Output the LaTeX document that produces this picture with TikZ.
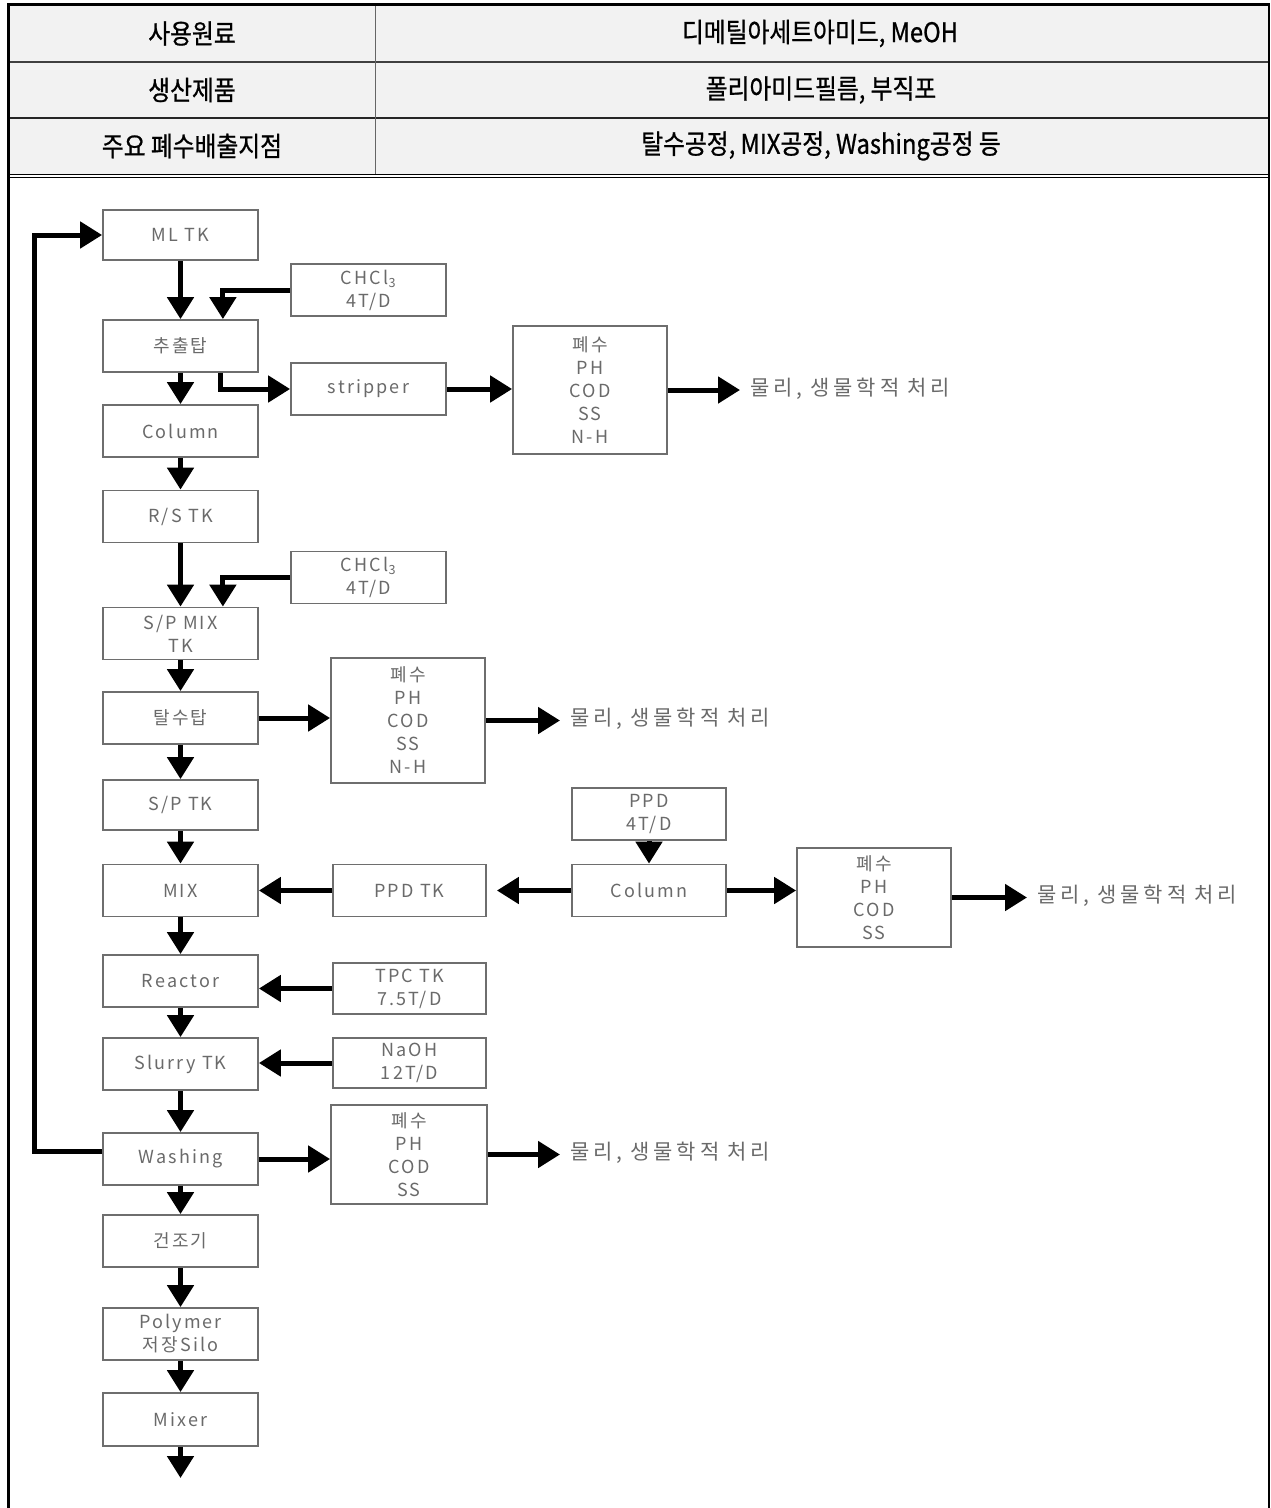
\documentclass[tikz,border=0pt]{standalone}
\usepackage{fontspec}
\usetikzlibrary{arrows.meta}
\newfontfamily\tblfont[FakeStretch=0.88,FakeBold=0.8]{Noto Sans CJK KR}
\newfontfamily\dgfont[LetterSpace=12]{Noto Sans CJK KR}
\newfontfamily\lblfont[LetterSpace=18]{Noto Sans CJK KR}
\definecolor{boxline}{HTML}{6E6E6E}
\definecolor{boxtext}{HTML}{6A6A6A}
\definecolor{cellfill}{HTML}{F2F2F2}
\begin{document}
\begin{tikzpicture}[x=1pt,y=-1pt,
  box/.style={draw=boxline, line width=1.8pt, minimum width=155pt, minimum height=52pt,
    inner sep=0pt, align=center, text=boxtext, font=\dgfont\fontsize{18}{23}\selectfont},
  flow/.style={line width=5pt, -{Triangle[width=26pt,length=22pt]}},
  lbl/.style={anchor=west, inner xsep=10pt, inner ysep=0pt, text=boxtext,
    font=\lblfont\fontsize{21}{23}\selectfont},
  cell/.style={font=\tblfont\fontsize{27}{30}\selectfont, text=black, inner sep=0pt}]
\useasboundingbox (0,0) rectangle (1270,1508);
\fill[white] (0,0) rectangle (1270,1508);
% ---------- table ----------
\fill[cellfill] (9,5) rectangle (1268,174);
\draw[line width=1.2pt, black!75] (9,62) -- (1268,62);
\draw[line width=1.2pt, black!85] (9,118) -- (1268,118);
\draw[line width=1pt, black!60] (375,5) -- (375,174);
\draw[line width=1pt] (9,174) -- (1268,174);
\draw[line width=1pt] (9,177) -- (1268,177);
\draw[line width=3pt] (7,4.5) -- (1270,4.5);
\draw[line width=3pt] (8.5,3) -- (8.5,1508);
\draw[line width=2pt] (1268.5,3) -- (1268.5,1508);
\node[cell] (c11) at (192,33.5) {사용원료};
\node[cell] (c12) at (820,33.5) {디메틸아세트아미드, MeOH};
\node[cell] (c21) at (192,90) {생산제품};
\node[cell] (c22) at (821,90) {폴리아미드필름, 부직포};
\node[cell] (c31) at (192,146) {주요 폐수배출지점};
\node[cell] (c32) at (821,146) {탈수공정, MIX공정, Washing공정 등};
% ---------- main column ----------
\node[box, minimum height=50pt] (mltk) at (180.5,235) {ML TK};
\node[box] (chu) at (180.5,346) {추출탑};
\node[box] (col1) at (180.5,431) {Column};
\node[box] (rstk) at (180.5,516.5) {R/S TK};
\node[box] (spmix) at (180.5,633.5) {S/P MIX\\TK};
\node[box] (tal) at (180.5,718) {탈수탑};
\node[box, minimum height=50pt] (sptk) at (180.5,805) {S/P TK};
\node[box] (mix) at (180.5,890.5) {MIX};
\node[box] (reac) at (180.5,981) {Reactor};
\node[box] (slur) at (180.5,1064) {Slurry TK};
\node[box] (wash) at (180.5,1159) {Washing};
\node[box] (dry) at (180.5,1241) {건조기};
\node[box] (silo) at (180.5,1334) {Polymer\\저장Silo};
\node[box, minimum height=53pt] (mixer) at (180.5,1419.5) {Mixer};
\coordinate (endp) at (180.5,1478);
% ---------- side boxes ----------
\node[box] (chcl1) at (368.5,290) {CHCl\textsubscript{3}\\4T/D};
\node[box] (strip) at (368.5,389) {stripper};
\node[box, minimum width=154pt, minimum height=128pt] (ww1) at (590,390) {폐수\\PH\\COD\\SS\\N-H};
\node[lbl] (t1) at (740,389) {물리, 생물학적 처리};
\node[box] (chcl2) at (368.5,577.5) {CHCl\textsubscript{3}\\4T/D};
\node[box, minimum width=154pt, minimum height=125pt] (ww2) at (408,720.5) {폐수\\PH\\COD\\SS\\N-H};
\node[lbl] (t2) at (560,719) {물리, 생물학적 처리};
\node[box, minimum width=154pt] (ppd) at (649,814) {PPD\\4T/D};
\node[box, minimum width=154pt] (col2) at (649,890.5) {Column};
\node[box, minimum width=153pt] (ppdtk) at (409.5,890.5) {PPD TK};
\node[box, minimum width=154pt, minimum height=99pt] (ww3) at (874,897.5) {폐수\\PH\\COD\\SS};
\node[lbl] (t3) at (1027,896) {물리, 생물학적 처리};
\node[box, minimum width=153pt, minimum height=51pt] (tpc) at (409.5,988.5) {TPC TK\\7.5T/D};
\node[box, minimum width=153pt, minimum height=50pt] (naoh) at (409.5,1063) {NaOH\\12T/D};
\node[box, minimum width=156pt, minimum height=99pt] (ww4) at (409,1154.5) {폐수\\PH\\COD\\SS};
\node[lbl] (t4) at (560,1153) {물리, 생물학적 처리};
% ---------- main flow ----------
\draw[flow] (mltk) -- (chu);
\draw[flow] (chu) -- (col1);
\draw[flow] (col1) -- (rstk);
\draw[flow] (rstk) -- (spmix);
\draw[flow] (spmix) -- (tal);
\draw[flow] (tal) -- (sptk);
\draw[flow] (sptk) -- (mix);
\draw[flow] (mix) -- (reac);
\draw[flow] (reac) -- (slur);
\draw[flow] (slur) -- (wash);
\draw[flow] (wash) -- (dry);
\draw[flow] (dry) -- (silo);
\draw[flow] (silo) -- (mixer);
\draw[flow] (mixer) -- (endp);
% ---------- side flows ----------
\draw[flow] (chcl1.west) -| ([xshift=-36pt]chu.north east);
\draw[flow] ([xshift=-38pt]chu.south east) |- (strip.west);
\draw[flow] (strip.east) -- (strip.east -| ww1.west);
\draw[flow] (ww1.east) -- (ww1.east -| t1.west);
\draw[flow] (chcl2.west) -| ([xshift=-36pt]spmix.north east);
\draw[flow] (tal.east) -- (tal.east -| ww2.west);
\draw[flow] (ww2.east) -- (ww2.east -| t2.west);
\draw[flow] (ppd) -- (col2);
\draw[flow] (col2.east) -- (col2.east -| ww3.west);
\draw[flow] (ww3.east) -- (ww3.east -| t3.west);
\draw[flow] (col2.west) -- ([xshift=10pt]ppdtk.east);
\draw[flow] (ppdtk.west) -- (mix.east);
\draw[flow] (tpc.west) -- (tpc.west -| reac.east);
\draw[flow] (naoh.west) -- (naoh.west -| slur.east);
\draw[flow] (wash.east) -- (wash.east -| ww4.west);
\draw[flow] (ww4.east) -- (ww4.east -| t4.west);
\draw[flow] ([yshift=8pt]wash.west) -- ++(-68,0) |- (mltk.west);
\end{tikzpicture}
\end{document}
